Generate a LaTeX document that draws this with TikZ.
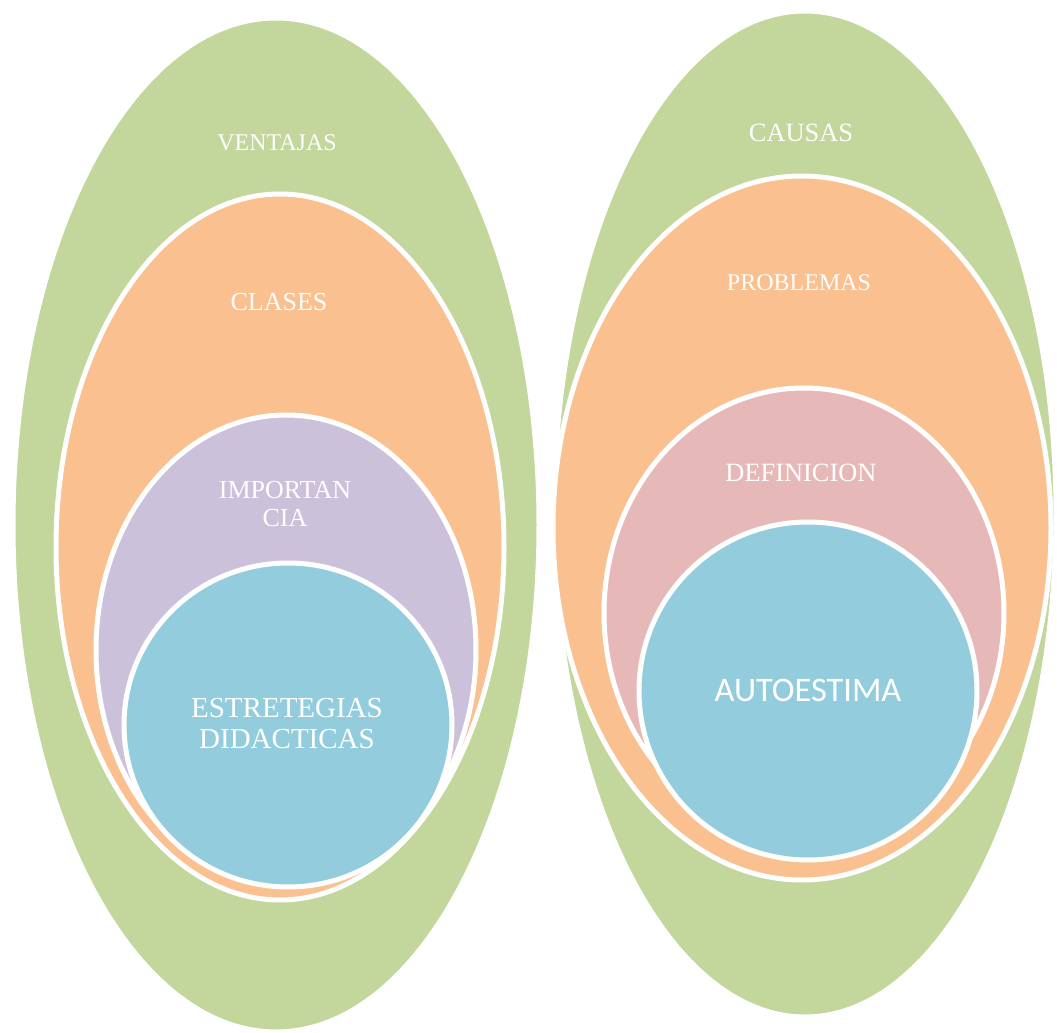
\documentclass[tikz,border=0pt]{standalone}
\usepackage{fontspec}
\setmainfont{Liberation Serif}
\newfontfamily\autofont{Carlito}
\usepackage{tikz}
\definecolor{verde}{HTML}{C3D69B}
\definecolor{naranja}{HTML}{FAC090}
\definecolor{lila}{HTML}{CCC1DA}
\definecolor{celeste}{HTML}{93CDDD}
\definecolor{rosa}{HTML}{E6B9B8}

\begin{document}
\begin{tikzpicture}[x=0.5pt, y=-0.5pt, line width=2.5pt,
        capa/.style={fill=#1, draw=white},
        rotulo/.style={text=white, align=center, inner sep=0pt}]
            \useasboundingbox (0, 0) rectangle (1057, 1033);
            \draw[capa=verde] (276, 525) ellipse (263 and 507);
            \draw[capa=naranja] (280, 547) ellipse (224 and 353);
            \draw[capa=lila] (286, 650) ellipse (190 and 235);
            \draw[capa=celeste] (288, 725) ellipse (164 and 162);
            \draw[capa=verde] (805, 514) ellipse (251 and 503);
            \draw[capa=naranja] (802, 528) ellipse (249 and 352);
            \draw[capa=rosa] (804, 613) ellipse (200 and 225);
            \draw[capa=celeste] (808, 691) ellipse (169 and 169);
            \node[rotulo, font=\fontsize{12}{14}\selectfont] (ventajas) at (277, 143) {VENTAJAS};
            \node[rotulo, font=\fontsize{13}{15}\selectfont] (clases) at (279, 302) {CLASES};
            \node[rotulo, font=\fontsize{13}{14}\selectfont] (importancia) at (285, 504) {IMPORTAN\\CIA};
            \node[rotulo, font=\fontsize{14.5}{15.5}\selectfont] (estrategias) at (287, 724) {ESTRETEGIAS\\DIDACTICAS};
            \node[rotulo, font=\fontsize{13.2}{15}\selectfont] (causas) at (801, 133) {CAUSAS};
            \node[rotulo, font=\fontsize{12}{14}\selectfont] (problemas) at (799, 283) {PROBLEMAS};
            \node[rotulo, font=\fontsize{13.2}{15}\selectfont] (definicion) at (801, 473) {DEFINICION};
            \node[rotulo, font=\autofont\fontsize{17.2}{20}\selectfont] (autoestima) at (808, 690) {AUTOESTIMA};
    \end{tikzpicture}
\end{document}
